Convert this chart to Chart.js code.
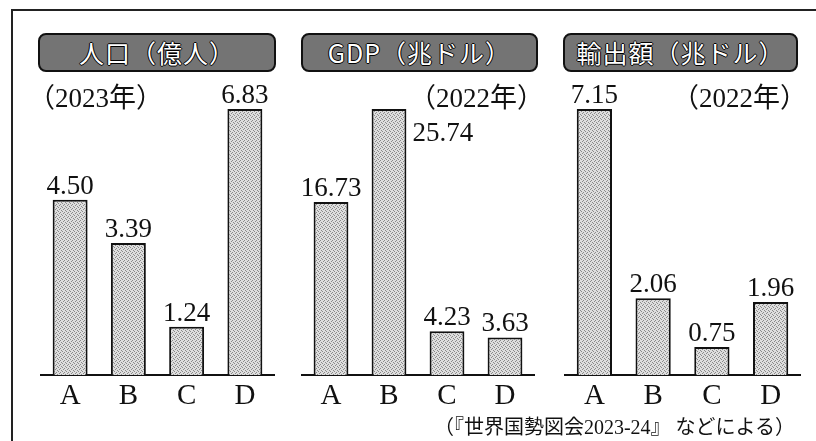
<!DOCTYPE html>
<html lang="ja">
<head>
<meta charset="utf-8">
<script src="https://cdn.jsdelivr.net/npm/chart.js@4.4.0/dist/chart.umd.min.js"></script>
<style>
  body { margin: 0; background: #fff; width: 816px; height: 441px; overflow: hidden; position: relative; }
  #frame { position: absolute; left: 11px; top: 9px; width: 900px; height: 500px; border-left: 2px solid #222; border-top: 2px solid #222; }
  .pill {
    position: absolute; top: 33px; height: 39px; box-sizing: border-box;
    border: 2px solid #111; border-radius: 8px; background: #747474;
    color: #fff; font-family: "Noto Sans CJK JP"; font-size: 25px; line-height: 34px; text-align: center;
    letter-spacing: 1px;
    text-shadow: -1px 0 #000, 1px 0 #000, 0 -1px #000, 0 1px #000;
  }
  canvas { position: absolute; top: 75px; }
  #note { position: absolute; right: 21px; top: 417px; font-family: "Liberation Serif", "Noto Sans CJK JP"; font-size: 20px; line-height: 20px; color: #111; white-space: nowrap; }
</style>
</head>
<body>
<div id="frame"></div>
<div class="pill" style="left:38px;width:238px">人口（億人）</div>
<div class="pill" style="left:301px;width:237px">GDP（兆ドル）</div>
<div class="pill" style="left:563px;width:235px">輸出額（兆ドル）</div>
<canvas id="c1" width="266" height="345" style="left:14px"></canvas>
<canvas id="c2" width="256" height="345" style="left:282px"></canvas>
<canvas id="c3" width="271" height="345" style="left:545px"></canvas>
<div id="note">（『世界国勢図会2023-24』 などによる）</div>
<script>
const categories = ['A', 'B', 'C', 'D'];
const population = [4.50, 3.39, 1.24, 6.83];
const gdp = [16.73, 25.74, 4.23, 3.63];
const exportsVal = [7.15, 2.06, 0.75, 1.96];
const years = ['（2023年）', '（2022年）', '（2022年）'];

// speckled gray fill like the printed bars
function speckle() {
  const t = document.createElement('canvas');
  t.width = 4; t.height = 4;
  const g = t.getContext('2d');
  g.fillStyle = '#dedede';
  g.fillRect(0, 0, 4, 4);
  g.fillStyle = '#8a8a8a';
  [[0, 0], [2, 1], [1, 2], [3, 3]].forEach(p => g.fillRect(p[0], p[1], 1, 1));
  return g.createPattern(t, 'repeat');
}

const valueLabels = {
  id: 'valueLabels',
  afterDatasetsDraw(chart, args, opts) {
    const ctx = chart.ctx;
    const vals = chart.data.datasets[0].data;
    ctx.save();
    ctx.fillStyle = '#111';
    ctx.font = '27px "Liberation Serif"';
    ctx.textBaseline = 'alphabetic';
    chart.getDatasetMeta(0).data.forEach((bar, i) => {
      const txt = vals[i].toFixed(2);
      if (i === opts.sideIndex) {
        ctx.textAlign = 'left';
        ctx.fillText(txt, bar.x + bar.width / 2 + 6, bar.y + 32);
      } else {
        ctx.textAlign = 'center';
        ctx.fillText(txt, bar.x, bar.y - 6);
      }
    });
    ctx.textAlign = 'left';
    ctx.font = '27px "Liberation Serif", "Noto Sans CJK JP"';
    ctx.fillText(opts.year, opts.yearX, 32);
    ctx.restore();
  }
};

function makeChart(id, values, pad, year, yearX, sideIndex) {
  return new Chart(document.getElementById(id), {
    type: 'bar',
    data: {
      labels: categories,
      datasets: [{
        data: values,
        backgroundColor: speckle(),
        borderColor: '#111',
        borderWidth: 2,
        barPercentage: 0.6,
        categoryPercentage: 1.0
      }]
    },
    options: {
      responsive: false,
      animation: false,
      layout: { padding: { left: pad[0], right: pad[1], top: 5, bottom: 0 } },
      plugins: {
        legend: { display: false },
        tooltip: { enabled: false },
        valueLabels: { year: year, yearX: yearX, sideIndex: sideIndex }
      },
      scales: {
        x: {
          grid: { display: false, drawTicks: false },
          border: { display: true, color: '#111', width: 2 },
          ticks: { color: '#111', font: { family: 'Liberation Serif', size: 29 }, padding: 4 },
          afterFit(s) { s.height = 45; }
        },
        y: { display: false, min: 0, max: Math.max(...values) * 1.109 }
      }
    },
    plugins: [valueLabels]
  });
}

makeChart('c1', population, [27, 6], years[0], 14, -1);
makeChart('c2', gdp, [20, 4], years[1], 127, 1);
makeChart('c3', exportsVal, [20, 16], years[2], 127, -1);
</script>
</body>
</html>
